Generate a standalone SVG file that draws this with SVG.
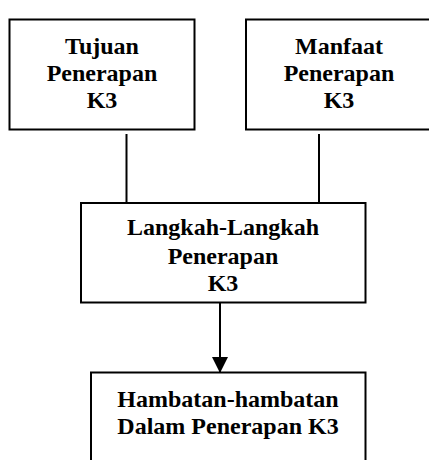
<svg xmlns="http://www.w3.org/2000/svg" width="429" height="460" viewBox="0 0 429 460">
<style>
.box{fill:#fff;stroke:#000;stroke-width:2}
.t{font-family:"Liberation Serif","Times New Roman",serif;font-weight:bold;font-size:24px;text-anchor:middle;fill:#000}
.c{stroke:#000;stroke-width:2;fill:none}
</style>
<defs>
<marker id="ah" markerWidth="16" markerHeight="17" refX="15" refY="8" orient="auto" markerUnits="userSpaceOnUse">
<path d="M0,0 L16,8 L0,16 Z" fill="#000"/>
</marker>
</defs>
<g id="connectors">
<line class="c" x1="126.5" y1="134" x2="126.5" y2="203"/>
<line class="c" x1="319" y1="134" x2="319" y2="203"/>
<line class="c" x1="220" y1="303" x2="220" y2="372" marker-end="url(#ah)"/>
</g>
<g id="tujuan">
<rect class="box" x="9.5" y="19.5" width="185" height="110"/>
<text class="t" x="102" y="54">Tujuan</text>
<text class="t" x="102" y="81">Penerapan</text>
<text class="t" x="102" y="107.5">K3</text>
</g>
<g id="manfaat">
<rect class="box" x="246" y="19.5" width="186" height="110"/>
<text class="t" x="339" y="54">Manfaat</text>
<text class="t" x="339" y="81">Penerapan</text>
<text class="t" x="339" y="107.5">K3</text>
</g>
<g id="langkah">
<rect class="box" x="81" y="203" width="284.5" height="99.5"/>
<text class="t" x="223" y="235">Langkah-Langkah</text>
<text class="t" x="223" y="264">Penerapan</text>
<text class="t" x="223" y="291">K3</text>
</g>
<g id="hambatan">
<rect class="box" x="91" y="372.5" width="274.5" height="100"/>
<text class="t" x="228" y="407">Hambatan-hambatan</text>
<text class="t" x="228" y="434">Dalam Penerapan K3</text>
</g>
</svg>
